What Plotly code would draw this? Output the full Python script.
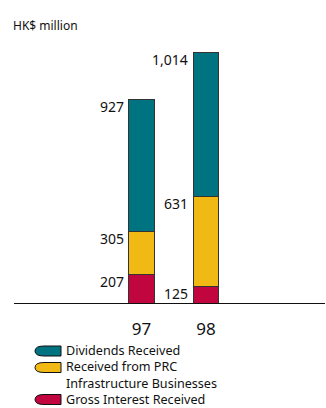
import plotly.graph_objects as go

# Cash receipts, HK$ million
years = ["97", "98"]
interest = [207, 125]
prc_infra = [305, 631]
dividends = [927, 1014]

series = [
    ("Gross Interest Received", interest, "#c1063f"),
    ("Received from PRC Infrastructure Businesses", prc_infra, "#f0b914"),
    ("Dividends Received", dividends, "#007380"),
]

W, H = 326, 408
FONT = "Noto Sans"

def px(x):
    return x / W

def py(y):
    return 1 - y / H

x_pos = list(range(len(years)))
bar_w = 0.39

fig = go.Figure()
for name, vals, color in series:
    fig.add_trace(go.Bar(
        x=x_pos, y=vals, name=name, width=bar_w,
        marker=dict(color=color, line=dict(color="#333333", width=1)),
        showlegend=False, hoverinfo="skip",
    ))

# segment value labels, placed left of each bar at the segment top
annotations = []
for i in x_pos:
    cum = 0
    for name, vals, color in series:
        cum += vals[i]
        annotations.append(dict(
            x=i - bar_w / 2, y=cum, xref="x", yref="y",
            text=f"{vals[i]:,}", showarrow=False,
            xanchor="right", yanchor="middle", xshift=-3, yshift=-7,
            font=dict(family=FONT, size=14, color="#111111"),
        ))

annotations.append(dict(
    x=px(11), y=py(25), xref="paper", yref="paper", text="HK$ million",
    showarrow=False, xanchor="left", yanchor="middle",
    font=dict(family=FONT, size=12, color="#111111"),
))

# legend: one text block, icons beside the first line of each entry
legend_lines = ["Dividends Received", "Received from PRC",
                "Infrastructure Businesses", "Gross Interest Received"]
legend_icons = [("#007380", 351), ("#f0b914", 367.5), ("#c1063f", 399.5)]
annotations.append(dict(
    x=px(65), y=py(375), xref="paper", yref="paper",
    text="<br>".join(legend_lines), align="left",
    showarrow=False, xanchor="left", yanchor="middle", borderpad=0,
    font=dict(family=FONT, size=12.6, color="#111111"),
))
shapes = []
for color, icy in legend_icons:
    t, b = icy - 5, icy + 5
    path = (f"M {px(61)},{py(t)} L {px(44)},{py(t)} "
            f"Q {px(35)},{py(t)} {px(35)},{py(icy)} "
            f"Q {px(35)},{py(b)} {px(44)},{py(b)} "
            f"L {px(61)},{py(b)} Z")
    shapes.append(dict(type="path", path=path, xref="paper", yref="paper",
                       fillcolor=color, line=dict(color="#111111", width=1)))

# baseline
shapes.append(dict(type="line", xref="paper", yref="y", x0=px(14), x1=px(325),
                   y0=0, y1=0, line=dict(color="#111111", width=2)))

baseline_px = 304
scale = 0.1423  # px per HK$ million
center0, step = 141.5, 64.5

fig.update_layout(
    width=W, height=H, barmode="stack",
    margin=dict(l=0, r=0, t=0, b=0),
    paper_bgcolor="white", plot_bgcolor="white",
    xaxis=dict(
        range=[(0 - center0) / step, (W - center0) / step],
        tickvals=x_pos, ticktext=years, showgrid=False, zeroline=False,
        showline=False, ticks="", ticklabelstandoff=13,
        tickfont=dict(family=FONT, size=17, color="#111111"),
    ),
    yaxis=dict(
        domain=[1 - baseline_px / H, 1],
        range=[0, baseline_px / scale], visible=False,
    ),
    annotations=annotations, shapes=shapes,
    font=dict(family=FONT),
)

fig.write_html("out.html")
